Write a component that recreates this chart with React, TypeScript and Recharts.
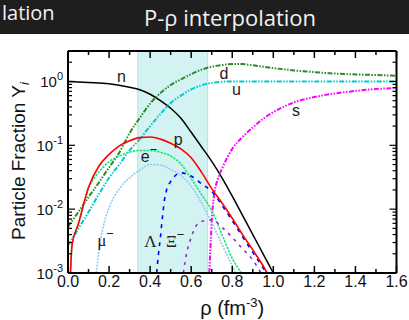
import { LineChart, Line, XAxis, YAxis, ReferenceArea, ReferenceDot } from 'recharts'

const WIDTH = 409
const HEIGHT = 286
const HEADER_H = 34

// particle fractions Y_i vs density rho (fm^-3)
const nRho = [0, 0.1, 0.2, 0.3, 0.35, 0.4, 0.45, 0.5, 0.55, 0.6, 0.65, 0.7, 0.75, 0.8, 0.85, 0.9, 0.95, 1.0]
const nY = [1.0, 0.965, 0.92, 0.81, 0.74, 0.63, 0.5, 0.38, 0.265, 0.16, 0.095, 0.056, 0.031, 0.016, 0.008, 0.004, 0.002, 0.001]

const pRho = [0.012, 0.02, 0.05, 0.1, 0.15, 0.2, 0.25, 0.3, 0.35, 0.4, 0.45, 0.5, 0.55, 0.6, 0.65, 0.7, 0.75, 0.8, 0.85, 0.9, 0.95, 0.97]
const pY = [0.001, 0.0028, 0.0058, 0.022, 0.047, 0.072, 0.098, 0.118, 0.132, 0.135, 0.125, 0.108, 0.088, 0.064, 0.038, 0.021, 0.0125, 0.0072, 0.004, 0.0023, 0.0013, 0.001]

const eRho = [0.012, 0.02, 0.05, 0.1, 0.15, 0.2, 0.25, 0.3, 0.35, 0.4, 0.45, 0.5, 0.55, 0.6, 0.65, 0.7, 0.75, 0.8, 0.845]
const eY = [0.001, 0.0028, 0.0057, 0.021, 0.038, 0.055, 0.068, 0.078, 0.083, 0.083, 0.078, 0.068, 0.051, 0.03, 0.017, 0.0095, 0.004, 0.0017, 0.001]

const muRho = [0.138, 0.15, 0.17, 0.2, 0.25, 0.3, 0.35, 0.4, 0.45, 0.5, 0.55, 0.6, 0.65, 0.7, 0.75, 0.8, 0.818]
const muY = [0.001, 0.0022, 0.005, 0.0105, 0.021, 0.031, 0.041, 0.05, 0.049, 0.042, 0.034, 0.023, 0.0126, 0.0062, 0.0028, 0.0013, 0.001]

const dRho = [0, 0.05, 0.1, 0.15, 0.2, 0.25, 0.3, 0.35, 0.4, 0.45, 0.5, 0.55, 0.6, 0.65, 0.7, 0.75, 0.8, 0.85, 0.9, 1.0, 1.1, 1.2, 1.3, 1.4, 1.5, 1.6]
const dY = [0.0053, 0.009, 0.0155, 0.026, 0.045, 0.077, 0.155, 0.27, 0.45, 0.66, 0.88, 1.08, 1.3, 1.53, 1.7, 1.81, 1.87, 1.87, 1.79, 1.62, 1.49, 1.4, 1.33, 1.29, 1.26, 1.23]

const uRho = [0, 0.05, 0.1, 0.15, 0.2, 0.25, 0.3, 0.35, 0.4, 0.45, 0.5, 0.55, 0.6, 0.65, 0.7, 0.75, 0.8, 0.9, 1.0, 1.2, 1.4, 1.6]
const uY = [0.0027, 0.0049, 0.009, 0.017, 0.031, 0.05, 0.084, 0.125, 0.2, 0.31, 0.46, 0.6, 0.75, 0.87, 0.95, 0.99, 1.0, 1.0, 1.0, 1.0, 1.0, 1.0]

const sRho = [0.688, 0.695, 0.7, 0.71, 0.73, 0.75, 0.8, 0.85, 0.9, 0.95, 1.0, 1.1, 1.2, 1.3, 1.4, 1.5, 1.6]
const sY = [0.001, 0.003, 0.0065, 0.015, 0.03, 0.043, 0.088, 0.135, 0.19, 0.26, 0.33, 0.47, 0.57, 0.65, 0.71, 0.76, 0.79]

const lamRho = [0.432, 0.44, 0.45, 0.46, 0.47, 0.48, 0.5, 0.55, 0.6, 0.65, 0.7, 0.75, 0.8, 0.85, 0.9, 0.95, 0.965]
const lamY = [0.001, 0.0019, 0.0036, 0.0075, 0.014, 0.02, 0.027, 0.037, 0.033, 0.025, 0.019, 0.0115, 0.0066, 0.0037, 0.0021, 0.0012, 0.001]

const xiRho = [0.562, 0.57, 0.58, 0.6, 0.62, 0.65, 0.7, 0.75, 0.8, 0.85, 0.9, 0.94]
const xiY = [0.001, 0.0015, 0.0022, 0.0036, 0.0052, 0.0064, 0.0068, 0.0052, 0.0036, 0.0024, 0.0016, 0.001]

// shaded interpolation window
const bandFrom = 0.34
const bandTo = 0.68

// curve labels
const labelText = ['n', 'd', 'u', 'p', 'e', 's', 'μ', 'Λ', 'Ξ']
const labelSup = ['', '', '', '', '−', '', '−', '', '−']
const labelRho = [0.26, 0.76, 0.82, 0.537, 0.395, 1.11, 0.183, 0.402, 0.522]
const labelY = [0.97, 1.09, 0.62, 0.1, 0.054, 0.293, 0.00266, 0.0026, 0.0026]

const xTicks = [0, 0.1, 0.2, 0.3, 0.4, 0.5, 0.6, 0.7, 0.8, 0.9, 1.0, 1.1, 1.2, 1.3, 1.4, 1.5, 1.6]
const decades = [0.001, 0.01, 0.1, 1]
const mantissas = [1, 2, 3, 4, 5, 6, 7, 8, 9]
const yTicks = decades.flatMap((d) => mantissas.map((m) => +(d * m).toPrecision(3))).filter((v) => v < 3)

type Pt = { rho: number; y: number }
const zip = (rho: number[], y: number[]): Pt[] => rho.map((r, i) => ({ rho: r, y: y[i] }))

const series = [
  { name: 'n', data: zip(nRho, nY), color: '#000000', width: 1.5, dash: undefined },
  { name: 'u', data: zip(uRho, uY), color: '#00c8d0', width: 2, dash: '5 1.5 1.5 1.5 1.5 1.5' },
  { name: 'd', data: zip(dRho, dY), color: '#2a8a2a', width: 2, dash: '5 1.5 1.5 1.5 1.5 1.5' },
  { name: 's', data: zip(sRho, sY), color: '#ff00ff', width: 2, dash: '5 1.5 1.5 1.5 1.5 1.5' },
  { name: 'mu', data: zip(muRho, muY), color: '#8ccbee', width: 1.6, dash: '2 1.2' },
  { name: 'e', data: zip(eRho, eY), color: '#1ee67a', width: 1.6, dash: '2.5 1' },
  { name: 'lambda', data: zip(lamRho, lamY), color: '#0000ff', width: 1.6, dash: '4 5' },
  { name: 'xi', data: zip(xiRho, xiY), color: '#9428d0', width: 1.6, dash: '3 5' },
  { name: 'p', data: zip(pRho, pY), color: '#ff0000', width: 1.6, dash: undefined },
]

const SANS = '"Liberation Sans", Arial, Helvetica, sans-serif'
const SERIF = '"Liberation Serif", "Times New Roman", serif'

const isDecade = (v: number) => {
  const p = Math.log10(v)
  return Math.abs(p - Math.round(p)) < 1e-6
}
const isMajorX = (v: number) => Math.round(v * 10) % 2 === 0

function BottomTick(props: any) {
  const { x, y, payload } = props
  const major = isMajorX(payload.value)
  return (
    <g>
      <line x1={x} x2={x} y1={y} y2={y - (major ? 7 : 4)} stroke="#000" strokeWidth={1.5} />
      {major && (
        <text x={x} y={y + 14} textAnchor="middle" fontSize={16} fontFamily={SANS} fill="#111">
          {payload.value.toFixed(1)}
        </text>
      )}
    </g>
  )
}

function TopTick(props: any) {
  const { x, y, payload } = props
  const major = isMajorX(payload.value)
  return <line x1={x} x2={x} y1={y} y2={y + (major ? 7 : 4)} stroke="#000" strokeWidth={1.5} />
}

function LeftTick(props: any) {
  const { x, y, payload } = props
  const major = isDecade(payload.value)
  const exp = Math.round(Math.log10(payload.value))
  return (
    <g>
      <line x1={x} x2={x + (major ? 7 : 4)} y1={y} y2={y} stroke="#000" strokeWidth={1.2} />
      {major && (
        <text x={x - 5} y={y + 6} textAnchor="end" fontSize={15} fontFamily={SANS} fill="#111">
          10
          <tspan dy={-7} fontSize={11}>
            {`${exp}`}
          </tspan>
        </text>
      )}
    </g>
  )
}

function RightTick(props: any) {
  const { x, y, payload } = props
  const major = isDecade(payload.value)
  return <line x1={x} x2={x - (major ? 7 : 4)} y1={y} y2={y} stroke="#000" strokeWidth={1.2} />
}

function XTitle(props: any) {
  const vb = props.viewBox ?? { x: 68, y: 239, width: 328, height: 47 }
  const cx = vb.x + vb.width / 2
  return (
    <text x={cx} y={vb.y + 42} textAnchor="middle" fontSize={20} fontFamily={SANS} fill="#111">
      ρ (fm
      <tspan dy={-8} fontSize={13}>
        -3
      </tspan>
      <tspan dy={8}>)</tspan>
    </text>
  )
}

function YTitle(props: any) {
  const vb = props.viewBox ?? { x: 0, y: 17, width: 68, height: 222 }
  const cx = vb.x + 25
  const cy = vb.y + vb.height / 2 - 1
  return (
    <text
      transform={`rotate(-90 ${cx} ${cy})`}
      x={cx}
      y={cy}
      textAnchor="middle"
      fontSize={19}
      fontFamily={SANS}
      fill="#111"
    >
      Particle Fraction Y
      <tspan fontStyle="italic" fontSize={13} dy={4}>
        i
      </tspan>
    </text>
  )
}

function CurveLabel({ cx, cy, index }: { cx?: number; cy?: number; index: number }) {
  if (typeof cx !== 'number' || typeof cy !== 'number') return <g />
  const greek = index >= 6
  return (
    <text
      x={cx}
      y={cy}
      textAnchor="middle"
      fontSize={greek ? 17 : 16}
      fontFamily={greek ? SERIF : SANS}
      fill="#222"
    >
      {labelText[index]}
      {labelSup[index] && (
        <tspan dy={-8} fontSize={13} fontFamily={SANS}>
          {labelSup[index]}
        </tspan>
      )}
    </text>
  )
}

export default function App() {
  return (
    <div style={{ position: 'fixed', left: 0, top: 0, width: WIDTH, height: 320, background: '#fff' }}>
      <svg width={WIDTH} height={HEADER_H} style={{ display: 'block' }}>
        <rect x={0} y={0} width={WIDTH} height={HEADER_H} fill="#1e1e1e" />
        <text x={2} y={20} fontSize={20} fontFamily='"Open Sans", sans-serif' fill="#f2f2f2">
          lation
        </text>
        <text x={230} y={26} textAnchor="middle" fontSize={22} fontFamily='"Open Sans", sans-serif' fill="#f2f2f2">
          P-ρ interpolation
        </text>
      </svg>
      <LineChart width={WIDTH} height={HEIGHT} margin={{ top: 16, right: 0, bottom: 0, left: 0 }}>
        <ReferenceArea
          x1={bandFrom}
          x2={bandTo}
          fill="#d3f3f3"
          fillOpacity={1}
          stroke="#a6e6e6"
          strokeWidth={1}
        />
        <XAxis
          dataKey="rho"
          type="number"
          domain={[0, 1.6]}
          ticks={xTicks}
          interval={0}
          allowDataOverflow
          height={47}
          tickSize={0}
          tickMargin={0}
          tickLine={false}
          axisLine={{ stroke: '#000', strokeWidth: 2 }}
          tick={BottomTick}
          label={{ content: XTitle }}
        />
        <XAxis
          xAxisId="top"
          orientation="top"
          dataKey="rho"
          type="number"
          domain={[0, 1.6]}
          ticks={xTicks}
          interval={0}
          allowDataOverflow
          height={1}
          tickSize={0}
          tickMargin={0}
          tickLine={false}
          axisLine={{ stroke: '#000', strokeWidth: 2 }}
          tick={TopTick}
        />
        <YAxis
          scale="log"
          type="number"
          domain={[0.001, 3]}
          ticks={yTicks}
          interval={0}
          allowDataOverflow
          width={68}
          tickSize={0}
          tickMargin={0}
          tickLine={false}
          axisLine={{ stroke: '#000', strokeWidth: 2 }}
          tick={LeftTick}
          label={{ content: YTitle }}
        />
        <YAxis
          yAxisId="right"
          orientation="right"
          scale="log"
          type="number"
          domain={[0.001, 3]}
          ticks={yTicks}
          interval={0}
          allowDataOverflow
          width={12.5}
          tickSize={0}
          tickMargin={0}
          tickLine={false}
          axisLine={{ stroke: '#000', strokeWidth: 2 }}
          tick={RightTick}
        />
        {series.map((s) => (
          <Line
            key={s.name}
            data={s.data}
            dataKey="y"
            type="monotone"
            stroke={s.color}
            strokeWidth={s.width}
            strokeDasharray={s.dash}
            dot={false}
            activeDot={false}
            isAnimationActive={false}
          />
        ))}
        {labelText.map((t, i) => (
          <ReferenceDot
            key={`lbl-${i}`}
            x={labelRho[i]}
            y={labelY[i]}
            r={0}
            shape={(p: any) => <CurveLabel cx={p.cx} cy={p.cy} index={i} />}
          />
        ))}
      </LineChart>
    </div>
  )
}
